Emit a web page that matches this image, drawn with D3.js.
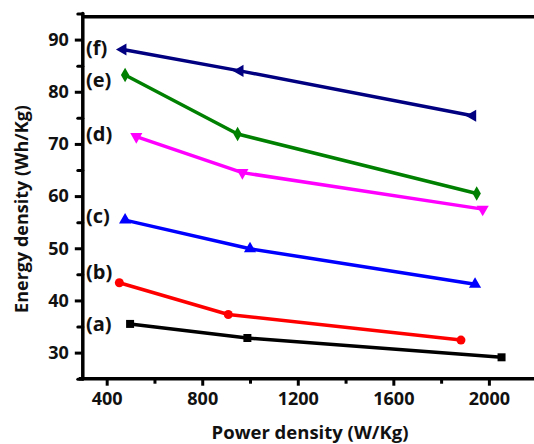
<!DOCTYPE html>
<html>
<head>
<meta charset="utf-8">
<script src="https://cdn.jsdelivr.net/npm/d3@7/dist/d3.min.js"></script>
<style>
  html, body { margin: 0; padding: 0; background: #fff; }
  svg { display: block; font-family: "Open Sans", "DejaVu Sans", sans-serif; font-weight: 700; }
</style>
</head>
<body>
<svg id="chart" width="534" height="444"></svg>
<script>
// Energy density vs power density (Ragone plot), six samples (a)–(f)
const seriesLabels = ["(a)", "(b)", "(c)", "(d)", "(e)", "(f)"];
const seriesColors = ["#000000", "#ff0000", "#0000ff", "#ff00ff", "#008000", "#000080"];

const powerA = [498, 989, 2053];
const energyA = [35.5, 32.8, 29.1];
const powerB = [453, 909, 1883];
const energyB = [43.4, 37.3, 32.4];
const powerC = [477, 1000, 1942];
const energyC = [55.4, 49.9, 43.1];
const powerD = [524, 968, 1974];
const energyD = [71.4, 64.5, 57.5];
const powerE = [477, 948, 1949];
const energyE = [83.2, 71.9, 60.5];
const powerF = [468, 958, 1932];
const energyF = [88.1, 84.0, 75.4];

const xTicks = [400, 800, 1200, 1600, 2000];
const xMinorTicks = [600, 1000, 1400, 1800, 2200];
const yTicks = [30, 40, 50, 60, 70, 80, 90];
const yMinorTicks = [25, 35, 45, 55, 65, 75, 85, 95];

const xTitle = "Power density (W/Kg)";
const yTitle = "Energy density (Wh/Kg)";

// marker shape per series
const markerShapes = ["square", "circle", "triangleUp", "triangleDown", "diamond", "triangleLeft"];
// vertical nudge (px) of each series tag relative to its first point
const tagNudge = [0, -11, -4, -3, 5, -1];

const powerBySeries = [powerA, powerB, powerC, powerD, powerE, powerF];
const energyBySeries = [energyA, energyB, energyC, energyD, energyE, energyF];

const series = seriesLabels.map((label, i) => ({
  label,
  color: seriesColors[i],
  shape: markerShapes[i],
  nudge: tagNudge[i],
  points: powerBySeries[i].map((p, j) => ({ p, e: energyBySeries[i][j] }))
}));

const svg = d3.select("#chart");

const x = d3.scaleLinear().domain([300, 2260]).range([82.8, 551]);
const y = d3.scaleLinear().domain([25, 95]).range([378.7, 13.5]);

const axisColor = "#000";
const axisWidth = 3.5;
const textColor = "#111";

function styleTickText(g, size) {
  g.selectAll("text")
    .attr("fill", textColor)
    .style("font-size", size)
    .style("font-weight", 700)
    .style("font-family", "'Open Sans', sans-serif");
}

// minor ticks
svg.append("g")
  .attr("transform", `translate(${x(300)},0)`)
  .call(d3.axisLeft(y).tickValues(yMinorTicks).tickSize(5).tickFormat(""))
  .call(g => g.select(".domain").remove())
  .call(g => g.selectAll("line").attr("stroke", axisColor).attr("stroke-width", 3).attr("stroke-linecap", "round"));

svg.append("g")
  .attr("transform", `translate(0,${y(25)})`)
  .call(d3.axisBottom(x).tickValues(xMinorTicks).tickSize(5).tickFormat(""))
  .call(g => g.select(".domain").remove())
  .call(g => g.selectAll("line").attr("stroke", axisColor).attr("stroke-width", 3));

// major ticks and labels
svg.append("g")
  .attr("transform", `translate(${x(300)},0)`)
  .call(d3.axisLeft(y).tickValues(yTicks).tickSize(8).tickPadding(6).tickFormat(d3.format("d")))
  .call(g => g.select(".domain").remove())
  .call(g => g.selectAll("line").attr("stroke", axisColor).attr("stroke-width", 3))
  .call(g => styleTickText(g, "18px"));

svg.append("g")
  .attr("transform", `translate(0,${y(25)})`)
  .call(d3.axisBottom(x).tickValues(xTicks).tickSize(7).tickPadding(7).tickFormat(d3.format("d")))
  .call(g => g.select(".domain").remove())
  .call(g => g.selectAll("line").attr("stroke", axisColor).attr("stroke-width", 3))
  .call(g => styleTickText(g, "18px"));

// frame: left spine, bottom axis line, top border
svg.append("line")
  .attr("x1", x(300)).attr("x2", x(300))
  .attr("y1", y(95)).attr("y2", y(25))
  .attr("stroke", axisColor).attr("stroke-width", axisWidth).attr("stroke-linecap", "round");
svg.append("line")
  .attr("x1", x(300) - 4).attr("x2", x(2260))
  .attr("y1", y(25)).attr("y2", y(25))
  .attr("stroke", axisColor).attr("stroke-width", axisWidth);
svg.append("line")
  .attr("x1", x(300)).attr("x2", x(2260))
  .attr("y1", y(95) + 3.3).attr("y2", y(95) + 3.3)
  .attr("stroke", axisColor).attr("stroke-width", axisWidth);

// series lines
const line = d3.line().x(d => x(d.p)).y(d => y(d.e));
svg.append("g").selectAll("path.series")
  .data(series)
  .join("path")
  .attr("class", "series")
  .attr("d", d => line(d.points))
  .attr("fill", "none")
  .attr("stroke", d => d.color)
  .attr("stroke-width", 3.5)
  .attr("stroke-linejoin", "round");

// markers
const symbolFor = {
  square: d3.symbol(d3.symbolSquare, 64),
  circle: d3.symbol(d3.symbolCircle, 64),
  triangleUp: d3.symbol(d3.symbolTriangle, 64),
  triangleDown: d3.symbol(d3.symbolTriangle, 64),
  diamond: d3.symbol(d3.symbolDiamond, 60),
  triangleLeft: d3.symbol(d3.symbolTriangle, 64)
};
const rotationFor = { triangleDown: 180, triangleLeft: -90 };

series.forEach(s => {
  svg.append("g").selectAll("path")
    .data(s.points)
    .join("path")
    .attr("d", symbolFor[s.shape]())
    .attr("transform", d => `translate(${x(d.p)},${y(d.e)}) rotate(${rotationFor[s.shape] || 0})`)
    .attr("fill", s.color);
});

// series tags
svg.append("g").selectAll("text")
  .data(series)
  .join("text")
  .attr("x", 86)
  .attr("y", d => y(d.points[0].e) + d.nudge)
  .attr("dy", "0.35em")
  .attr("fill", textColor)
  .style("font-size", "20px")
  .text(d => d.label);

// axis titles
svg.append("text")
  .attr("x", 310)
  .attr("y", 439)
  .attr("text-anchor", "middle")
  .attr("fill", textColor)
  .style("font-size", "18.5px")
  .text(xTitle);

svg.append("text")
  .attr("transform", "translate(28,209) rotate(-90)")
  .attr("text-anchor", "middle")
  .attr("fill", textColor)
  .style("font-size", "18px")
  .text(yTitle);
</script>
</body>
</html>
